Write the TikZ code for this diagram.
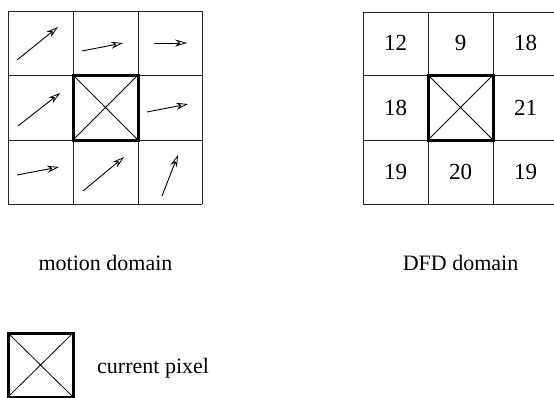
\documentclass[tikz,border=0pt]{standalone}
\usepackage{fontspec}
\setmainfont{Liberation Serif}
\usetikzlibrary{arrows.meta}
\begin{document}
\begin{tikzpicture}[x=1pt,y=-1pt,
  gridline/.style={line width=1pt,black!85},
  thickbox/.style={line width=3pt,black},
  diag/.style={line width=0.8pt},
  mv/.style={line width=0.9pt,-{Stealth[open,length=12pt,width=7pt,inset=4pt,line width=0.8pt]}},
  lbl/.style={font=\fontsize{22}{26}\selectfont,inner sep=0pt},
  num/.style={font=\fontsize{23}{27}\selectfont,inner sep=0pt}]
\useasboundingbox (0,0) rectangle (554,397);
% left grid
\foreach \i in {8,73,138,202}{\draw[gridline] (\i,11) -- (\i,204);}
\foreach \j in {11,75,140,204}{\draw[gridline] (8,\j) -- (202,\j);}
\draw[diag] (73,75) -- (138,140) (73,140) -- (138,75);
\draw[thickbox] (73,75) rectangle (138,140);
% motion vectors
\draw[mv] (17,60) -- (58,27);
\draw[mv] (82,51) -- (123,43);
\draw[mv] (154,43) -- (187,43);
\draw[mv] (18,126) -- (60,93);
\draw[mv] (147,112) -- (188,104);
\draw[mv] (17,175) -- (59,167);
\draw[mv] (83,191) -- (124,157);
\draw[mv] (162,196) -- (178,155);
% right grid
\foreach \i in {363,428,493,558}{\draw[gridline] (\i,12) -- (\i,204);}
\foreach \j in {12,75,140,204}{\draw[gridline] (363,\j) -- (558,\j);}
\draw[diag] (428,75) -- (493,140) (428,140) -- (493,75);
\draw[thickbox] (428,75) rectangle (493,140);
\node[num] (n11) at (395.5,43) {12};
\node[num] (n12) at (460.5,43) {9};
\node[num] (n13) at (525.5,43) {18};
\node[num] (n21) at (395.5,107.5) {18};
\node[num] (n23) at (525.5,107.5) {21};
\node[num] (n31) at (395.5,172) {19};
\node[num] (n32) at (460.5,172) {20};
\node[num] (n33) at (525.5,172) {19};
% labels
\node[lbl,anchor=base] (motion) at (105.5,270) {motion domain};
\node[lbl,anchor=base] (dfd) at (460.5,270) {DFD domain};
% legend
\draw[diag] (8,333) -- (73,397) (8,397) -- (73,333);
\draw[thickbox] (8,333) rectangle (73,397);
\node[lbl,anchor=base west] (cur) at (97,373) {current pixel};
\end{tikzpicture}
\end{document}
